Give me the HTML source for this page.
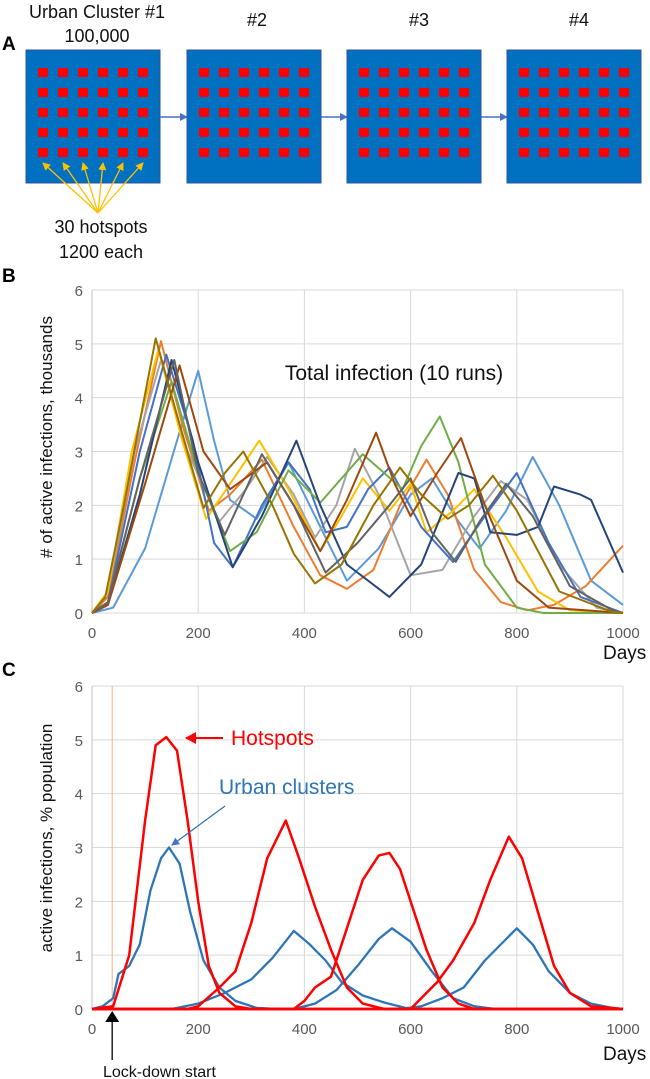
<!DOCTYPE html>
<html><head><meta charset="utf-8"><style>
html,body{margin:0;padding:0;background:#fff}
svg{display:block;font-family:"Liberation Sans",sans-serif}
</style></head><body>
<svg id="fig" width="650" height="1079" viewBox="0 0 650 1079">
<defs>
<marker id="ab" markerWidth="8" markerHeight="8" refX="7" refY="4" orient="auto" markerUnits="userSpaceOnUse"><path d="M0,0 L8,4 L0,8 z" fill="#4472C4"/></marker>
<marker id="ay" markerWidth="8" markerHeight="8" refX="7" refY="4" orient="auto" markerUnits="userSpaceOnUse"><path d="M0,0 L8,4 L0,8 z" fill="#FFC000"/></marker>
<marker id="ar" markerWidth="12" markerHeight="12" refX="10" refY="6" orient="auto" markerUnits="userSpaceOnUse"><path d="M0,0 L11,6 L0,12 z" fill="#FF0000"/></marker>
<marker id="ak" markerWidth="12" markerHeight="14" refX="10" refY="7" orient="auto" markerUnits="userSpaceOnUse"><path d="M0,0 L11,7 L0,14 z" fill="#000"/></marker>
</defs>
<g id="panelA">
<text x="2" y="50" font-size="19" font-weight="bold">A</text>
<text x="97" y="18" font-size="18" text-anchor="middle" fill="#111">Urban Cluster #1</text>
<text x="97" y="42" font-size="18" text-anchor="middle" fill="#111">100,000</text>
<text x="257" y="26" font-size="18" text-anchor="middle" fill="#111">#2</text>
<text x="419" y="26" font-size="18" text-anchor="middle" fill="#111">#3</text>
<text x="579" y="26" font-size="18" text-anchor="middle" fill="#111">#4</text>
<text x="101" y="233" font-size="18" text-anchor="middle" fill="#111">30 hotspots</text>
<text x="101" y="258" font-size="18" text-anchor="middle" fill="#111">1200 each</text>
</g>
<g id="panelB"></g>
<g id="panelC"></g>
</svg>
<script>
// ---- Panel B data: 10 runs, [day, thousands] ----
const bDays = [0, 200, 400, 600, 800, 1000];
const bYTicks = [0, 1, 2, 3, 4, 5, 6];
const runColors = ["#5B9BD5","#ED7D31","#A5A5A5","#FFC000","#4472C4","#70AD47","#264478","#9E480E","#636363","#997300"];
const run1 = [[0,0],[40,0.1],[100,1.2],[160,3.2],[200,4.5],[230,3.2],[260,2.1],[310,1.75],[370,2.8],[420,1.8],[480,0.6],[540,1.2],[600,2.2],[640,2.5],[690,1.7],[730,1.2],[780,1.9],[830,2.9],[880,2.0],[940,0.6],[1000,0.15]];
const run2 = [[0,0],[30,0.3],[80,2.8],[130,5.05],[170,3.5],[220,1.9],[260,2.2],[320,2.85],[380,1.6],[430,0.7],[480,0.45],[530,0.8],[580,2.0],[630,2.85],[670,2.2],[720,0.8],[770,0.2],[820,0.05],[870,0.15],[930,0.5],[1000,1.25]];
const run3 = [[0,0],[30,0.4],[80,3.0],[130,4.7],[180,3.0],[240,1.7],[290,2.3],[330,2.9],[380,2.2],[420,1.4],[460,2.0],[495,3.05],[540,2.2],[600,0.7],[660,0.8],[720,1.8],[770,2.45],[820,2.1],[880,0.9],[950,0.1],[1000,0.0]];
const run4 = [[0,0],[30,0.4],[75,3.0],[125,4.9],[170,3.2],[215,1.75],[260,2.4],[315,3.2],[370,2.3],[430,1.15],[470,1.8],[510,2.5],[560,1.9],[600,2.4],[630,1.5],[680,1.9],[720,2.3],[780,1.4],[840,0.4],[900,0.05],[1000,0]];
const run5 = [[0,0],[30,0.2],[90,3.0],[140,4.8],[190,3.2],[230,1.3],[265,0.85],[320,2.0],[370,2.8],[410,2.3],[440,1.5],[480,1.6],[520,2.3],[560,2.7],[620,1.6],[680,0.95],[740,1.8],[800,2.6],[860,1.3],[920,0.3],[1000,0.0]];
const run6 = [[0,0],[30,0.2],[90,2.5],[150,4.3],[200,2.6],[260,1.15],[310,1.5],[370,2.65],[430,2.05],[470,2.5],[510,2.95],[585,2.3],[620,3.1],[655,3.65],[690,2.8],[740,0.9],[800,0.1],[850,0.0],[1000,0]];
const run7 = [[0,0],[30,0.15],[90,2.2],[150,4.7],[200,2.8],[265,0.85],[320,1.8],[385,3.2],[430,2.0],[480,0.9],[560,0.3],[620,0.9],[690,2.6],[720,2.5],[750,1.5],[800,1.45],[840,1.6],[870,2.35],[920,2.2],[940,2.1],[1000,0.75]];
const run8 = [[0,0],[30,0.15],[100,2.4],[165,4.6],[210,3.0],[260,2.3],[330,2.8],[380,2.0],[430,1.15],[480,2.1],[535,3.35],[570,2.4],[600,1.8],[650,2.6],[695,3.25],[740,2.0],[800,0.6],[860,0.1],[1000,0]];
const run9 = [[0,0],[30,0.2],[90,2.5],[155,4.7],[200,2.6],[250,1.45],[320,2.95],[380,2.0],[440,0.75],[500,1.3],[560,2.0],[600,2.5],[640,1.5],[685,0.95],[730,1.7],[780,2.4],[830,1.8],[900,0.5],[980,0.05],[1000,0]];
const run10 = [[0,0],[25,0.3],[60,2.0],[120,5.1],[165,3.5],[210,1.95],[250,2.6],[285,3.0],[340,2.0],[380,1.1],[420,0.55],[470,0.9],[530,2.0],[580,2.7],[620,2.2],[670,1.75],[710,2.0],[755,2.55],[800,1.9],[880,0.4],[980,0.02],[1000,0]];
// ---- Panel C data: [day, % population] ----
const hot1 = [[0,0],[40,0.05],[70,1.0],[100,3.5],[120,4.9],[140,5.05],[160,4.8],[180,3.5],[200,2.0],[220,0.8],[240,0.3],[270,0.05],[300,0],[1000,0]];
const hot2 = [[0,0],[180,0],[200,0.05],[240,0.4],[270,0.7],[300,1.6],[330,2.8],[365,3.5],[390,2.8],[420,1.9],[450,1.1],[480,0.4],[510,0.1],[550,0],[1000,0]];
const hot3 = [[0,0],[380,0],[400,0.15],[420,0.4],[450,0.6],[480,1.5],[510,2.4],[540,2.85],[560,2.9],[580,2.6],[600,2.0],[630,1.1],[660,0.4],[690,0.1],[720,0],[1000,0]];
const hot4 = [[0,0],[600,0],[620,0.2],[650,0.5],[680,0.9],[720,1.6],[750,2.4],[785,3.2],[810,2.8],[840,1.8],[870,0.8],[900,0.3],[940,0.05],[1000,0]];
const urb1 = [[0,0],[20,0.05],[40,0.2],[50,0.65],[70,0.8],[90,1.2],[110,2.2],[130,2.8],[145,3.0],[165,2.7],[185,1.8],[210,0.9],[240,0.4],[270,0.15],[310,0.02],[350,0],[1000,0]];
const urb2 = [[0,0],[150,0],[200,0.1],[250,0.3],[300,0.55],[340,0.95],[380,1.45],[410,1.2],[440,0.9],[470,0.5],[510,0.25],[550,0.12],[590,0.02],[620,0],[1000,0]];
const urb3 = [[0,0],[380,0],[420,0.1],[460,0.35],[500,0.8],[540,1.3],[565,1.5],[600,1.25],[640,0.7],[680,0.2],[720,0.05],[760,0],[1000,0]];
const urb4 = [[0,0],[580,0],[620,0.05],[660,0.2],[700,0.4],[740,0.9],[780,1.3],[800,1.5],[830,1.2],[860,0.7],[900,0.3],[940,0.1],[980,0.02],[1000,0]];
const lockdownDay = 38;

const NS = "http://www.w3.org/2000/svg";
function mk(tag, attrs, parent, txt){const e=document.createElementNS(NS,tag);for(const k in attrs)e.setAttribute(k,attrs[k]);if(txt!==undefined)e.textContent=txt;parent.appendChild(e);return e;}

// ---- Panel A boxes ----
const A = document.getElementById('panelA');
const boxLefts = [26,187,347,507];
boxLefts.forEach((bx,i)=>{
  const r = mk('rect',{x:bx,y:50,width:134,height:133,fill:'#0070C0',stroke:'#2F5597','stroke-width':1},A);
  
  
  for(let row=0;row<5;row++)for(let c=0;c<6;c++){
    const s = mk('rect',{x:bx+12+c*20,y:68+row*20,width:10,height:9,fill:'#FF0000'},A);
    
    
  }
  if(i<3){
    const l = mk('line',{x1:bx+134,y1:117,x2:boxLefts[i+1],y2:117,stroke:'#4472C4','stroke-width':1.5,'marker-end':'url(#ab)'},A);
    
    
  }
});
for(let c=0;c<6;c++){
  const l = mk('line',{x1:98,y1:213,x2:26+17+c*20,y2:163,stroke:'#FFC000','stroke-width':1.3,'marker-end':'url(#ay)'},A);
  
  
}

// ---- generic chart ----
function chart(g, top, bottom, ytitle, yTitleY){
  const x0=92,x1=623;
  const sx=d=>x0+(d/1000)*(x1-x0);
  const sy=v=>bottom-(v/6)*(bottom-top);
  bYTicks.forEach(v=>{
    const gl=mk('line',{x1:x0,y1:sy(v),x2:x1,y2:sy(v),stroke:'#D9D9D9','stroke-width':1},g);
    
    
    const t=mk('text',{x:x0-9,y:sy(v)+6,'font-size':15,'text-anchor':'end',fill:'#595959'},g,String(v));
    
    
  });
  bDays.forEach(d=>{
    const gl=mk('line',{x1:sx(d),y1:top,x2:sx(d),y2:bottom,stroke:'#D9D9D9','stroke-width':1},g);
    
    
    const t=mk('text',{x:sx(d),y:bottom+25,'font-size':15,'text-anchor':'middle',fill:'#595959'},g,String(d));
    
    
  });
  const ax=mk('line',{x1:x0,y1:top,x2:x0,y2:bottom,stroke:'#BFBFBF','stroke-width':1},g);
  
  
  const yt=mk('text',{x:0,y:0,'font-size':17,'text-anchor':'middle',fill:'#111',transform:`translate(52,${yTitleY}) rotate(-90)`},g,ytitle);
  
  
  return {sx,sy};
}
function drawLine(g, pts, color, w, s, name){
  const d=pts.map((p,i)=>(i?'L':'M')+s.sx(p[0]).toFixed(1)+','+s.sy(p[1]).toFixed(1)).join(' ');
  const p=mk('path',{d:d,fill:'none',stroke:color,'stroke-width':w,'stroke-linejoin':'round'},g);
  
  
}

// Panel B
const B=document.getElementById('panelB');
const lb=mk('text',{x:2,y:282,'font-size':19,'font-weight':'bold'},B,'B');


const sB=chart(B,290,613,'# of active infections, thousands',437);
const runs=[run1,run2,run3,run4,run5,run6,run7,run8,run9,run10];
runs.forEach((r,i)=>drawLine(B,r,runColors[i],2,sB,'run-'+(i+1)+'-line'));
const tt=mk('text',{x:394,y:380,'font-size':21,'text-anchor':'middle',fill:'#111'},B,'Total infection (10 runs)');


const dB=mk('text',{x:603,y:659,'font-size':19,fill:'#111'},B,'Days');



// Panel C
const C=document.getElementById('panelC');
const lc=mk('text',{x:2,y:676,'font-size':19,'font-weight':'bold'},C,'C');


const sC=chart(C,686,1009,'active infections, % population',838);
const ld=mk('line',{x1:sC.sx(lockdownDay),y1:686,x2:sC.sx(lockdownDay),y2:1009,stroke:'#F4B183','stroke-width':1},C);


[urb1,urb2,urb3,urb4].forEach((r,i)=>drawLine(C,r,'#2E75B6',2.3,sC,'urban-cluster-'+(i+1)+'-line'));
[hot1,hot2,hot3,hot4].forEach((r,i)=>drawLine(C,r,'#FF0000',2.5,sC,'hotspots-'+(i+1)+'-line'));
const ht=mk('text',{x:231,y:745,'font-size':21,fill:'#FF0000'},C,'Hotspots');


const ha=mk('line',{x1:223,y1:738,x2:186,y2:738,stroke:'#FF0000','stroke-width':2,'marker-end':'url(#ar)'},C);


const ut=mk('text',{x:219,y:794,'font-size':21,fill:'#2E75B6'},C,'Urban clusters');


const ua=mk('line',{x1:225,y1:806,x2:172,y2:845,stroke:'#2E75B6','stroke-width':1.2,'marker-end':'url(#ab)'},C);


const ka=mk('line',{x1:sC.sx(lockdownDay),y1:1060,x2:sC.sx(lockdownDay),y2:1012,stroke:'#000','stroke-width':1.3,'marker-end':'url(#ak)'},C);


const kt=mk('text',{x:103,y:1077,'font-size':16,fill:'#111'},C,'Lock-down start');


const dC=mk('text',{x:603,y:1060,'font-size':19,fill:'#111'},C,'Days');


</script>
</body></html>
